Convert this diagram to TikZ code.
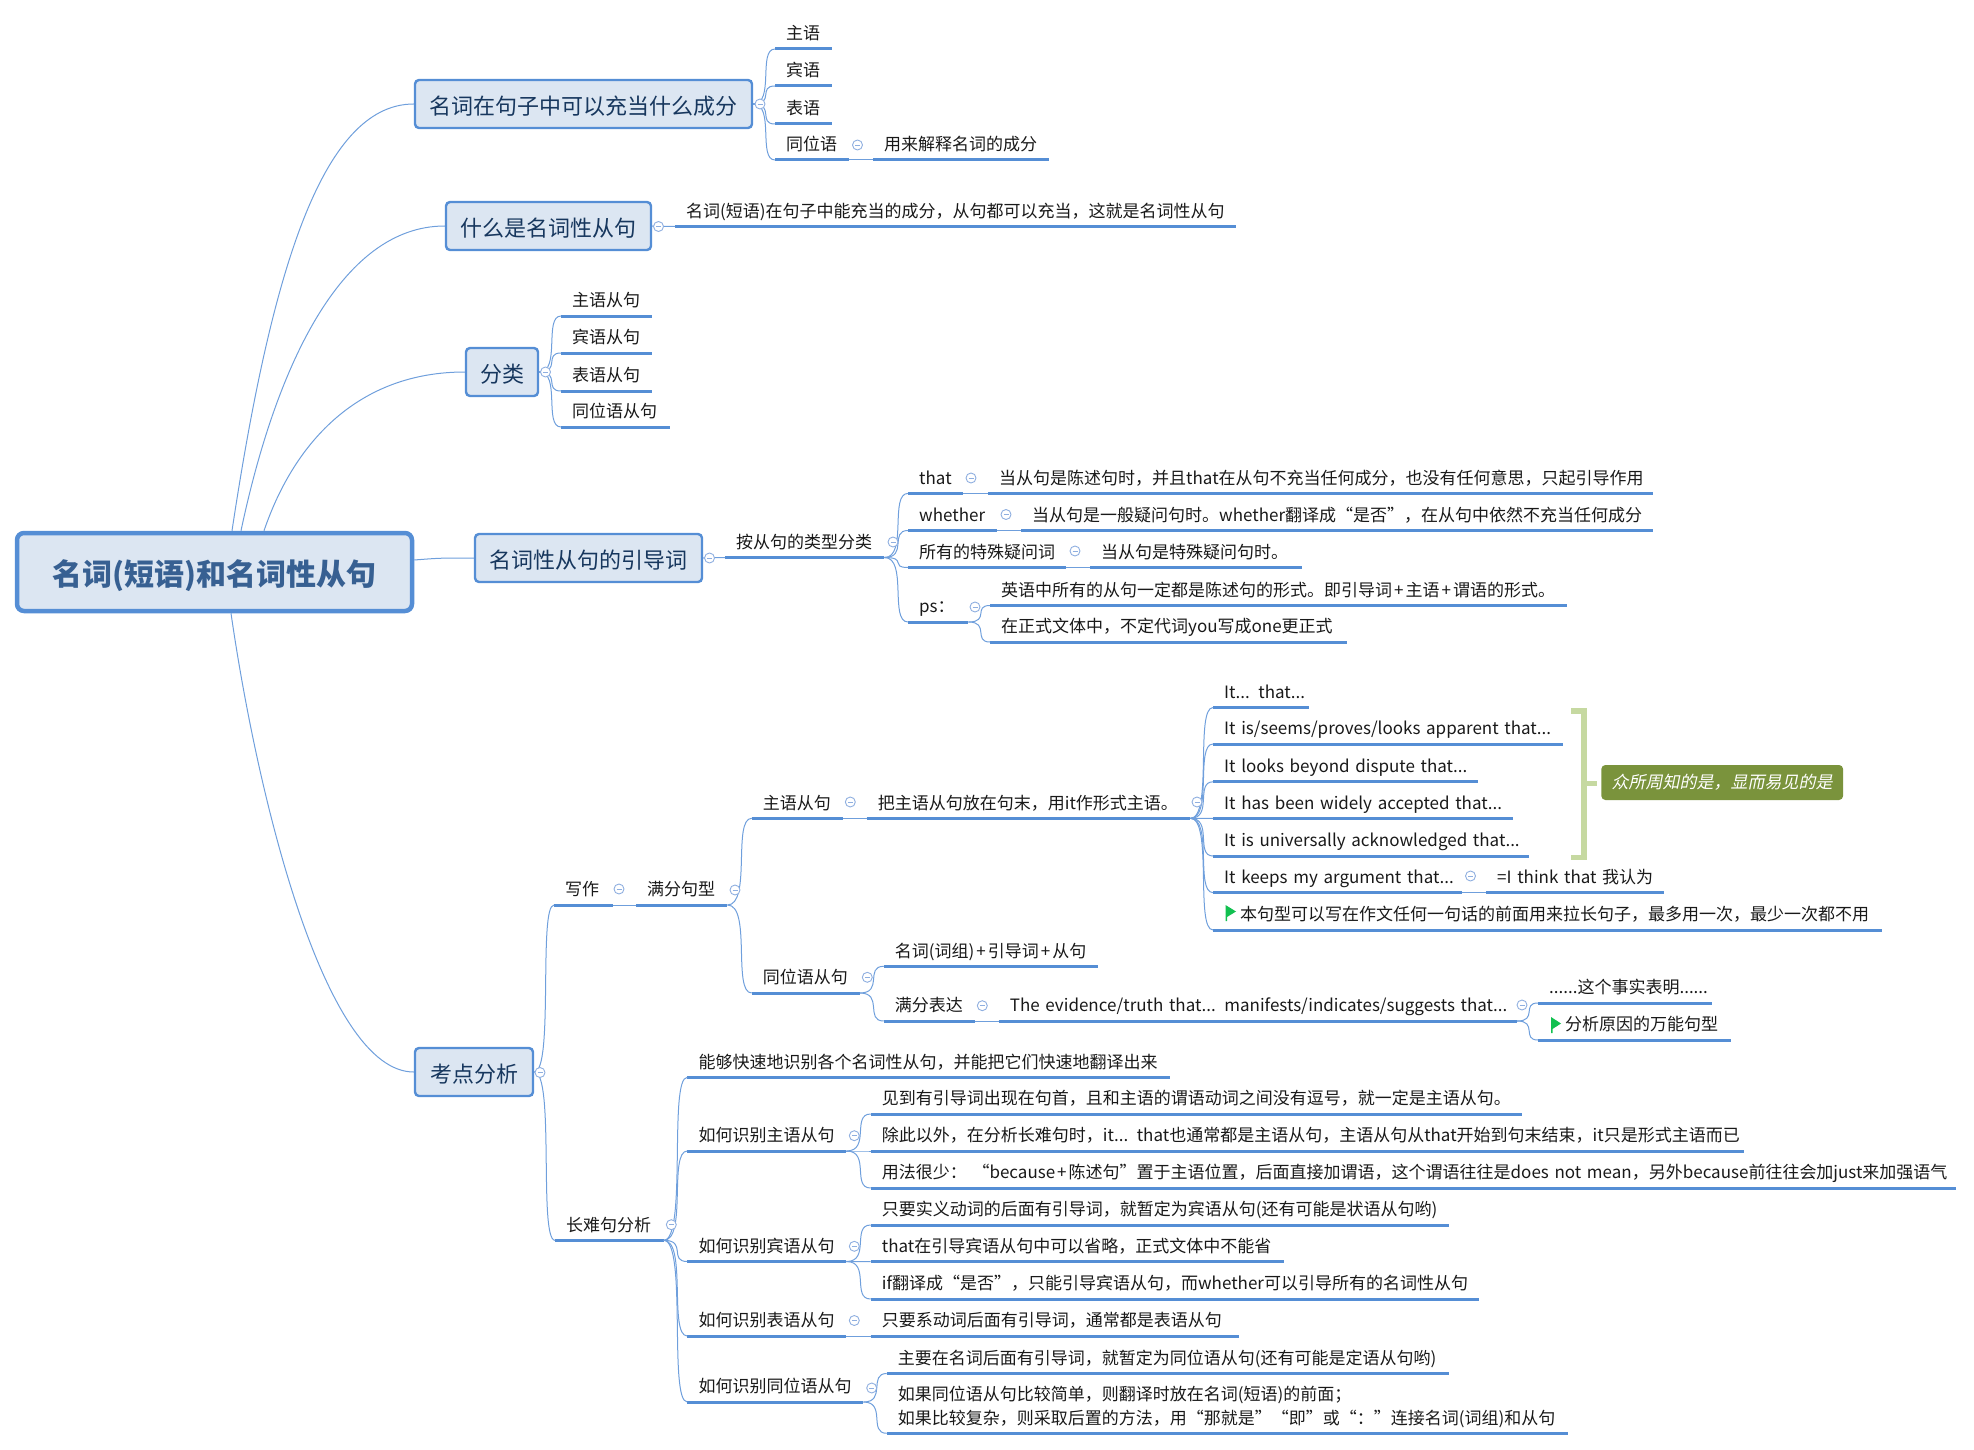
\documentclass[tikz,border=0pt]{standalone}
\usepackage{fontspec}
\setmainfont{Noto Sans CJK SC}
\newfontfamily\notefont[FakeSlant=0.2]{Noto Sans CJK SC}
\usetikzlibrary{calc}

\definecolor{boxfill}{HTML}{DCE6F2}
\definecolor{boxline}{HTML}{558ED5}
\definecolor{boxtext}{HTML}{17375E}
\definecolor{roottext}{HTML}{376092}
\definecolor{linkblue}{HTML}{6F9FDC}
\definecolor{foldblue}{HTML}{8FAFE0}
\definecolor{notefill}{HTML}{7A933C}
\definecolor{brackline}{HTML}{C6D9A1}
\definecolor{flaggreen}{HTML}{12C050}

\tikzset{
	topic/.style={draw=boxline, fill=boxfill, text=boxtext, line width=2.4pt, rounded corners=4pt, inner sep=0pt, text height=21pt, text depth=0pt, font=\fontsize{22}{26}\selectfont},
	leaf/.style={anchor=south west, inner xsep=11pt, inner ysep=0pt, text width=(#1-22)*1pt, align=left, text height=13pt, text depth=9pt, text=black!90, font=\fontsize{17}{22.4}\selectfont,
		append after command={(\tikzlastnode.south west) edge[uline] (\tikzlastnode.south east)}},
	uline/.style={draw=boxline, line width=3pt},
	link/.style={draw=linkblue, line width=1pt},
	fold/.style={circle, draw=foldblue, fill=white, line width=0.9pt, minimum size=10pt, inner sep=0pt,
		path picture={\draw[foldblue, line width=0.9pt] ([xshift=2.5pt]path picture bounding box.west) -- ([xshift=-2.5pt]path picture bounding box.east);}},
	flagmark/.style={fill=flaggreen},
}
\newcommand{\branch}[2]{\draw[link] (#1) .. controls (#1 -| #2) and ($(#2)!0.8!(#2 -| #1)$) .. (#2);}
\newcommand{\plusgap}{\kern2pt+\kern2pt}

\begin{document}
\begin{tikzpicture}[x=1pt, y=-1pt]
	\useasboundingbox (0,0) rectangle (1974,1450);

	% centre and main topics
	\node[topic, line width=4.5pt, rounded corners=7pt, minimum width=395pt, minimum height=78pt, text=roottext, text height=27pt, font=\fontsize{30}{34}\selectfont\bfseries] (root) at (214.5,572) {名词(短语)和名词性从句};
	\node[topic, minimum width=337pt, minimum height=48pt] (chengfen) at (583.5,104) {名词在句子中可以充当什么成分};
	\node[topic, minimum width=205pt, minimum height=48pt] (shenme) at (548.5,226) {什么是名词性从句};
	\node[topic, minimum width=72pt, minimum height=48pt] (fenlei) at (502,372) {分类};
	\node[topic, minimum width=227pt, minimum height=48pt] (yindao) at (588.5,558) {名词性从句的引导词};
	\node[topic, minimum width=118pt, minimum height=48pt] (kaodian) at (474,1072) {考点分析};

	\draw[link] ([xshift=17.5pt]root.north) .. controls (270,280) and (320,104) .. (chengfen.west);
	\draw[link] ([xshift=26.5pt]root.north) .. controls (275,370) and (340,226) .. (shenme.west);
	\draw[link] ([xshift=49.5pt]root.north) .. controls (295,440) and (360,372) .. (fenlei.west);
	\draw[link] ([yshift=12pt]root.east) .. controls (440,558) .. (yindao.west);
	\draw[link] ([xshift=16.5pt]root.south) .. controls (258,800) and (325,1072) .. (kaodian.west);

	% first topic
	\node[leaf=57] (zhuyu) at (775,49) {主语};
	\node[leaf=57] (binyu) at (775,86) {宾语};
	\node[leaf=57] (biaoyu) at (775,124) {表语};
	\node[leaf=74] (tongwei) at (775,160) {同位语};
	\node[leaf=176] (jieshi) at (873,160) {用来解释名词的成分};
	\foreach \kid in {zhuyu,binyu,biaoyu,tongwei} {\branch{chengfen.east}{\kid.south west}}
	\draw[link] (tongwei.south east) -- (jieshi.south west);
	\node[fold] (fchengfen) at (760,104) {};
	\node[fold] (ftongwei) at (857.5,145) {};

	% second topic
	\node[leaf=561] (dingyi) at (675,226.5) {名词(短语)在句子中能充当的成分，从句都可以充当，这就是名词性从句};
	\draw[link] (shenme.east) -- (dingyi.south west);
	\node[fold] (fshenme) at (658.5,226.5) {};

	% third topic
	\node[leaf=91] (zhucong) at (561,316) {主语从句};
	\node[leaf=91] (bincong) at (561,353) {宾语从句};
	\node[leaf=91] (biaocong) at (561,391) {表语从句};
	\node[leaf=108.5] (tongcong) at (561,427) {同位语从句};
	\foreach \kid in {zhucong,bincong,biaocong,tongcong} {\branch{fenlei.east}{\kid.south west}}
	\node[fold] (ffenlei) at (545.5,372) {};

	% fourth topic
	\node[leaf=159] (leixing) at (725,557.5) {按从句的类型分类};
	\node[leaf=55] (that) at (908,493.4) {that};
	\node[leaf=665] (thatx) at (988,493.4) {当从句是陈述句时，并且that在从句不充当任何成分，也没有任何意思，只起引导作用};
	\node[leaf=89] (whether) at (908,530.5) {whether};
	\node[leaf=632] (whetherx) at (1021,530.5) {当从句是一般疑问句时。whether翻译成“是否”，在从句中依然不充当任何成分};
	\node[leaf=158] (teshu) at (908,567.5) {所有的特殊疑问词};
	\node[leaf=212] (teshux) at (1090,567.5) {当从句是特殊疑问句时。};
	\node[leaf=60] (ps) at (908,622) {ps：};
	\node[leaf=577] (psa) at (990,605.5) {英语中所有的从句一定都是陈述句的形式。即引导词\plusgap 主语\plusgap 谓语的形式。};
	\node[leaf=357] (psb) at (990,642) {在正式文体中，不定代词you写成one更正式};
	\draw[link] (yindao.east) -- (leixing.south west);
	\foreach \kid in {that,whether,teshu,ps} {\branch{leixing.south east}{\kid.south west}}
	\draw[link] (that.south east) -- (thatx.south west);
	\draw[link] (whether.south east) -- (whetherx.south west);
	\draw[link] (teshu.south east) -- (teshux.south west);
	\foreach \kid in {psa,psb} {\branch{ps.south east}{\kid.south west}}
	\node[fold] (fyindao) at (709.5,558) {};
	\node[fold] (fleixing) at (893,542) {};
	\node[fold] (fthat) at (971,478) {};
	\node[fold] (fwhether) at (1006,514.5) {};
	\node[fold] (fteshu) at (1075,551) {};
	\node[fold] (fps) at (975,607) {};

	% writing
	\node[leaf=59] (xiezuo) at (554,905) {写作};
	\node[leaf=91] (manfen) at (636,905) {满分句型};
	\node[leaf=91] (zhucongB) at (751.7,818.3) {主语从句};
	\node[leaf=323.3] (bazhu) at (866.7,818.3) {把主语从句放在句末，用it作形式主语。};
	\node[leaf=95.5] (ita) at (1213,707.5) {\mbox{It... that...}};
	\node[leaf=350] (itb) at (1213,744) {\mbox{It is/seems/proves/looks apparent that...}};
	\node[leaf=265] (itc) at (1213,781.8) {\mbox{It looks beyond dispute that...}};
	\node[leaf=299.5] (itd) at (1213,818.3) {\mbox{It has been widely accepted that...}};
	\node[leaf=316] (ite) at (1213,856) {\mbox{It is universally acknowledged that...}};
	\node[leaf=249] (itf) at (1213,892.6) {\mbox{It keeps my argument that...}};
	\node[leaf=178] (think) at (1486,892.6) {\mbox{=I think that 我认为}};
	\node[leaf=669] (itg) at (1213,930) {\hspace*{16pt}本句型可以写在作文任何一句话的前面用来拉长句子，最多用一次，最少一次都不用};
	\fill[flagmark] (1225.5,905) -- (1236,911.5) -- (1227,917) -- (1227,921) -- (1225.5,921) -- cycle;
	\node[leaf=107.7] (tongcongB) at (751.7,993) {同位语从句};
	\node[leaf=213.7] (mingci) at (883.7,966.3) {名词(词组)\plusgap 引导词\plusgap 从句};
	\node[leaf=90.7] (biaoda) at (883.7,1021) {满分表达};
	\node[leaf=518] (evidence) at (998.7,1021) {\mbox{The evidence/truth that... manifests/indicates/suggests that...}};
	\node[leaf=174] (shishi) at (1538,1003) {......这个事实表明......};
	\node[leaf=193] (yuanyin) at (1538,1040) {\hspace*{16pt}分析原因的万能句型};
	\fill[flagmark] (1551,1017) -- (1561,1023.5) -- (1552.5,1029) -- (1552.5,1033) -- (1551,1033) -- cycle;
	\node[leaf=108.3] (changnan) at (555,1240.3) {长难句分析};
	\foreach \kid in {xiezuo,changnan} {\branch{kaodian.east}{\kid.south west}}
	\draw[link] (xiezuo.south east) -- (manfen.south west);
	\foreach \kid in {zhucongB,tongcongB} {\branch{manfen.south east}{\kid.south west}}
	\draw[link] (zhucongB.south east) -- (bazhu.south west);
	\foreach \kid in {ita,itb,itc,itd,ite,itf,itg} {\branch{bazhu.south east}{\kid.south west}}
	\draw[link] (itf.south east) -- (think.south west);
	\foreach \kid in {mingci,biaoda} {\branch{tongcongB.south east}{\kid.south west}}
	\draw[link] (biaoda.south east) -- (evidence.south west);
	\foreach \kid in {shishi,yuanyin} {\branch{evidence.south east}{\kid.south west}}

	% note beside the It list
	\node[fill=notefill, text=white, rounded corners=4pt, minimum width=241.7pt, minimum height=35pt, inner sep=0pt, font=\fontsize{17}{20}\notefont] (note) at (1722.2,782.5) {众所周知的是，显而易见的是};
	\draw[brackline, line width=5.5pt] (1571.3,711) -- (1584,711) -- (1584,857.5) -- (1571.3,857.5);
	\coordinate (brack) at (1586,783.3);
	\draw[brackline, line width=5pt] (brack) -- ([xshift=-4.5pt]note.west |- brack);

	\node[fold] (fkaodian) at (540,1072.5) {};
	\node[fold] (fxiezuo) at (619,889) {};
	\node[fold] (fmanfen) at (735,890) {};
	\node[fold] (fzhucongB) at (850.3,802) {};
	\node[fold] (fbazhu) at (1197,802) {};
	\node[fold] (fitf) at (1470.5,876) {};
	\node[fold] (ftongcongB) at (867.3,977.3) {};
	\node[fold] (fbiaoda) at (982.3,1005.7) {};
	\node[fold] (fevidence) at (1522,1005) {};

	% long sentences
	\node[leaf=482.5] (nenggou) at (687.3,1077.3) {能够快速地识别各个名词性从句，并能把它们快速地翻译出来};
	\node[leaf=158.7] (shizhu) at (687.3,1151) {如何识别主语从句};
	\node[leaf=1085.3] (zhuc) at (870.7,1188) {\mbox{用法很少： “because\plusgap 陈述句”置于主语位置，后面直接加谓语，这个谓语往往是does not mean，另外because前往往会加just来加强语气}};
	\node[leaf=651.3] (zhua) at (870.7,1114) {见到有引导词出现在句首，且和主语的谓语动词之间没有逗号，就一定是主语从句。};
	\node[leaf=873.3] (zhub) at (870.7,1151) {\mbox{除此以外，在分析长难句时，it... that也通常都是主语从句，主语从句从that开始到句末结束，it只是形式主语而已}};
	\node[leaf=158.7] (shibin) at (687.3,1261.5) {如何识别宾语从句};
	\node[leaf=578.3] (bina) at (870.7,1225) {只要实义动词的后面有引导词，就暂定为宾语从句(还有可能是状语从句哟)};
	\node[leaf=413.3] (binb) at (870.7,1261.5) {that在引导宾语从句中可以省略，正式文体中不能省};
	\node[leaf=608.3] (binc) at (870.7,1299) {if翻译成“是否”，只能引导宾语从句，而whether可以引导所有的名词性从句};
	\node[leaf=158.7] (shibiao) at (687.3,1336) {如何识别表语从句};
	\node[leaf=368.3] (biaoa) at (870.7,1336) {只要系动词后面有引导词，通常都是表语从句};
	\node[leaf=175.7] (shitong) at (687.3,1402) {如何识别同位语从句};
	\node[leaf=562.3] (tonga) at (886.7,1373.5) {主要在名词后面有引导词，就暂定为同位语从句(还有可能是定语从句哟)};
	\node[leaf=681.3, text depth=33pt, font=\fontsize{17}{24}\selectfont] (tongb) at (886.7,1433.3) {如果同位语从句比较简单，则翻译时放在名词(短语)的前面；\\如果比较复杂，则采取后置的方法，用“那就是”“即”或“：”连接名词(词组)和从句};
	\foreach \kid in {nenggou,shizhu,shibin,shibiao,shitong} {\branch{changnan.south east}{\kid.south west}}
	\foreach \kid in {zhua,zhub,zhuc} {\branch{shizhu.south east}{\kid.south west}}
	\foreach \kid in {bina,binb,binc} {\branch{shibin.south east}{\kid.south west}}
	\draw[link] (shibiao.south east) -- (biaoa.south west);
	\foreach \kid in {tonga,tongb} {\branch{shitong.south east}{\kid.south west}}
	\node[fold] (fchangnan) at (671.3,1224.7) {};
	\node[fold] (fshizhu) at (854.3,1135.7) {};
	\node[fold] (fshibin) at (854.3,1246.3) {};
	\node[fold] (fshibiao) at (854.3,1320.5) {};
	\node[fold] (fshitong) at (871.7,1388) {};
\end{tikzpicture}
\end{document}
